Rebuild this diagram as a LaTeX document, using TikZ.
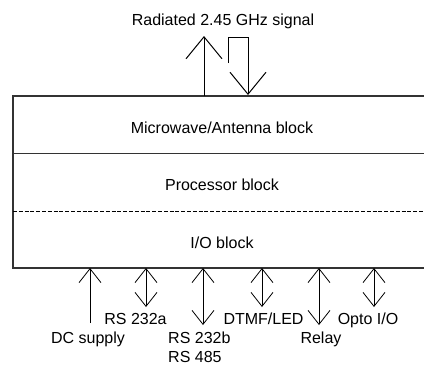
\documentclass[tikz,border=0pt]{standalone}
\usepackage{fontspec}
\setmainfont{Liberation Sans}
\usetikzlibrary{arrows.meta}
\begin{document}
\begin{tikzpicture}[x=1pt,y=-1pt,
  txt/.style={font=\fontsize{16}{18}\selectfont, inner sep=0pt, anchor=base},
  boxline/.style={draw=black!80, line width=1.3pt},
  bigarr/.style={line width=1pt, -{Straight Barb[length=22pt,width=36pt,line width=1pt]}},
  smallarr/.style={line width=0.8pt, -{Straight Barb[length=14pt,width=22pt,line width=0.8pt]}},
  dblarr/.style={line width=0.8pt, {Straight Barb[length=14pt,width=22pt,line width=0.8pt]}-{Straight Barb[length=14pt,width=22pt,line width=0.8pt]}}]
\useasboundingbox (0,0) rectangle (424,365);
% outer block
\node[boxline, draw, minimum width=418pt, minimum height=172pt, inner sep=0pt] (box) at (222,182) {};
\coordinate (s1) at (13,153);
\coordinate (s2) at (13,211);
\draw[boxline, line width=1pt] (s1) -- (s1 -| box.east);
\draw[line width=0.7pt, dash pattern=on 4pt off 1.8pt] (s2) -- (s2 -| box.east);
% block labels
\node[txt] (mw) at (222,133) {Microwave/Antenna block};
\node[txt] (proc) at (222,190) {Processor block};
\node[txt] (io) at (222,248) {I/O block};
% radiated signal
\node[txt] (rad) at (223,25) {Radiated 2.45 GHz signal};
\coordinate (u0) at (204,96);
\coordinate (u1) at (204,36);
\draw[bigarr] (u0) -- (u1);
\coordinate (d0) at (228.5,63);
\coordinate (d1) at (228.5,37);
\coordinate (d2) at (248,37);
\coordinate (d3) at (248,95);
\draw[bigarr] (d0) -- (d1) -- (d2) -- (d3);
% I/O arrows
\coordinate (a1t) at (90,268);  \coordinate (a1b) at (90,323);
\coordinate (a2t) at (146,268); \coordinate (a2b) at (146,307);
\coordinate (a3t) at (203,268); \coordinate (a3b) at (203,325);
\coordinate (a4t) at (262,268); \coordinate (a4b) at (262,307);
\coordinate (a5t) at (319,268); \coordinate (a5b) at (319,325);
\coordinate (a6t) at (374,268); \coordinate (a6b) at (374,307);
\draw[smallarr] (a1b) -- (a1t);
\draw[dblarr] (a2t) -- (a2b);
\draw[dblarr] (a3t) -- (a3b);
\draw[dblarr] (a4t) -- (a4b);
\draw[dblarr] (a5t) -- (a5b);
\draw[dblarr] (a6t) -- (a6b);
% I/O labels
\node[txt] (l1) at (88,343) {DC supply};
\node[txt] (l2) at (135.5,324) {RS 232a};
\node[txt, anchor=base west] (l3) at (168,343) {RS 232b};
\node[txt, anchor=base west] (l3b) at (168,362) {RS 485};
\node[txt] (l4) at (263.5,324) {DTMF/LED};
\node[txt] (l5) at (321,343) {Relay};
\node[txt] (l6) at (368,324) {Opto I/O};
\end{tikzpicture}
\end{document}
